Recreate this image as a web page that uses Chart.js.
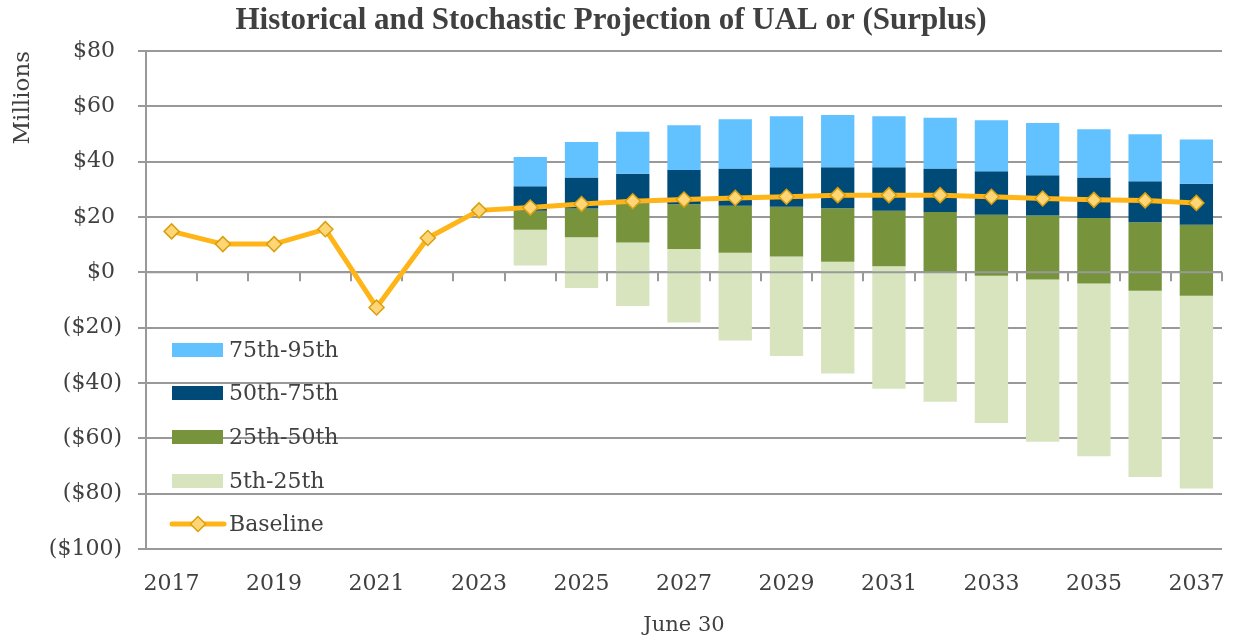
<!DOCTYPE html>
<html lang="en">
<head>
<meta charset="UTF-8">
<title>Historical and Stochastic Projection of UAL</title>
<script src="https://cdn.jsdelivr.net/npm/chart.js"></script>
<style>
  html, body { margin: 0; padding: 0; background: #fff; }
  #wrap { width: 1234px; height: 638px; }
</style>
</head>
<body>
<div id="wrap"><canvas id="ualChart"></canvas></div>
<script>
// June 30 of each year
const years = ['2017', '2018', '2019', '2020', '2021', '2022', '2023', '2024', '2025', '2026', '2027',
               '2028', '2029', '2030', '2031', '2032', '2033', '2034', '2035', '2036', '2037'];
const shownYears = ['2017', '2019', '2021', '2023', '2025', '2027', '2029', '2031', '2033', '2035', '2037'];
const yTicks = [80, 60, 40, 20, 0, -20, -40, -60, -80, -100];

// baseline UAL, $ millions
const baseline = [14.8, 10.2, 10.2, 15.6, -12.7, 12.4, 22.4, 23.4, 24.7, 25.7, 26.3,
                  26.9, 27.3, 27.9, 27.9, 27.9, 27.3, 26.7, 26.2, 26.0, 25.1];

// stochastic percentiles (null = historical years)
const p5  = [null, null, null, null, null, null, null, 2.5, -5.7, -12.2, -18.1,
             -24.6, -30.2, -36.6, -42.1, -46.8, -54.5, -61.2, -66.5, -74.0, -78.1];
const p25 = [null, null, null, null, null, null, null, 15.4, 12.7, 10.8, 8.4,
             7.1, 5.7, 3.8, 2.2, -0.2, -1.2, -2.6, -4.0, -6.7, -8.5];
const p50 = [null, null, null, null, null, null, null, 22.3, 23.1, 24.9, 24.6,
             24.1, 23.7, 23.2, 22.3, 21.8, 20.8, 20.5, 19.6, 18.1, 17.2];
const p75 = [null, null, null, null, null, null, null, 31.1, 34.3, 35.6, 37.0,
             37.5, 38.0, 38.0, 38.0, 37.5, 36.5, 35.1, 34.3, 32.9, 32.0];
const p95 = [null, null, null, null, null, null, null, 41.7, 47.1, 50.8, 53.2,
             55.3, 56.4, 56.9, 56.4, 55.9, 55.0, 54.0, 51.7, 49.9, 48.0];

const textColor = '#404040';
const gridColor = '#999999';

// floating bar pairs [low, high]
function band(lo, hi) {
    return lo.map((v, i) => v === null ? null : [v, hi[i]]);
}

// x axis line sits at $0, with category tick marks hanging below it
const zeroAxis = {
    id: 'zeroAxis',
    beforeDatasetDraw(chart, args) {
        if (args.meta.type !== 'line') return;
        const { ctx, chartArea, scales: { x, y } } = chart;
        const y0 = y.getPixelForValue(0);
        ctx.save();
        ctx.strokeStyle = gridColor;
        ctx.lineWidth = 2;
        ctx.beginPath();
        ctx.moveTo(chartArea.left, y0);
        ctx.lineTo(chartArea.right, y0);
        for (let i = 0; i <= years.length; i++) {
            const px = Math.round(x.getPixelForValue(i - 0.5));
            ctx.moveTo(px, y0);
            ctx.lineTo(px, y0 + 9);
        }
        ctx.stroke();
        ctx.restore();
    }
};

// legend drawn inside the plot, bottom left
const insideLegend = {
    id: 'insideLegend',
    afterDatasetsDraw(chart) {
        const { ctx, chartArea } = chart;
        const x0 = chartArea.left + 26;
        const rows = [-199, -156, -112, -68, -25];
        ctx.save();
        ctx.font = '22px "DejaVu Serif"';
        ctx.textBaseline = 'middle';
        chart.data.datasets.forEach((ds, i) => {
            const yy = chartArea.bottom + rows[i];
            if (ds.type === 'line') {
                ctx.strokeStyle = ds.borderColor;
                ctx.lineWidth = 5;
                ctx.lineCap = 'round';
                ctx.beginPath();
                ctx.moveTo(x0, yy);
                ctx.lineTo(x0 + 52, yy);
                ctx.stroke();
                const cx = x0 + 26, r = 7.5;
                ctx.beginPath();
                ctx.moveTo(cx, yy - r);
                ctx.lineTo(cx + r, yy);
                ctx.lineTo(cx, yy + r);
                ctx.lineTo(cx - r, yy);
                ctx.closePath();
                ctx.fillStyle = ds.pointBackgroundColor;
                ctx.fill();
                ctx.strokeStyle = ds.pointBorderColor;
                ctx.lineWidth = 1.5;
                ctx.stroke();
            } else {
                ctx.fillStyle = ds.backgroundColor;
                ctx.fillRect(x0, yy - 7, 51, 14);
            }
            ctx.fillStyle = textColor;
            ctx.fillText(ds.label, x0 + 57, yy + 1);
        });
        ctx.restore();
    }
};

const barOpts = { type: 'bar', grouped: false, barPercentage: 0.65, categoryPercentage: 1, borderWidth: 0, order: 1 };

new Chart(document.getElementById('ualChart'), {
    type: 'bar',
    data: {
        labels: years,
        datasets: [
            { ...barOpts, label: '75th-95th', data: band(p75, p95), backgroundColor: '#62C1FF' },
            { ...barOpts, label: '50th-75th', data: band(p50, p75), backgroundColor: '#004A77' },
            { ...barOpts, label: '25th-50th', data: band(p25, p50), backgroundColor: '#77933C' },
            { ...barOpts, label: '5th-25th', data: band(p5, p25), backgroundColor: '#D7E4BD' },
            {
                type: 'line',
                label: 'Baseline',
                data: baseline,
                borderColor: '#FFB418',
                borderWidth: 5,
                tension: 0,
                pointStyle: 'rectRot',
                pointRadius: 7.5,
                pointBackgroundColor: '#FFD576',
                pointBorderColor: '#D9A00E',
                pointBorderWidth: 1.5,
                order: 0
            }
        ]
    },
    options: {
        responsive: true,
        maintainAspectRatio: false,
        animation: false,
        layout: { padding: { left: 0, right: 12, top: 0, bottom: 0 } },
        font: { family: '"DejaVu Serif"' },
        plugins: {
            legend: { display: false },
            tooltip: { enabled: false },
            title: {
                display: true,
                text: 'Historical and Stochastic Projection of UAL or (Surplus)',
                color: textColor,
                font: { family: '"Liberation Serif"', size: 31, weight: 'bold', lineHeight: 1.2 },
                padding: { top: 2.4, bottom: 11.4 }
            }
        },
        scales: {
            x: {
                grid: { display: false, drawTicks: false },
                border: { display: false },
                ticks: {
                    autoSkip: false,
                    maxRotation: 0,
                    padding: 22,
                    color: textColor,
                    font: { family: '"DejaVu Serif"', size: 22, lineHeight: 1.2 },
                    callback: (v, i) => shownYears.includes(years[i]) ? years[i] : ''
                },
                title: {
                    display: true,
                    text: 'June 30',
                    color: textColor,
                    font: { family: '"DejaVu Serif"', size: 21, lineHeight: 1 },
                    padding: { top: 0, bottom: 2 }
                },
                afterFit: s => {
                    s.height = 89;
                    s.paddingLeft = 0;
                    s.paddingRight = 0;
                }
            },
            y: {
                min: -100,
                max: 80,
                afterBuildTicks: s => { s.ticks = yTicks.map(v => ({ value: v })); },
                grid: { color: gridColor, lineWidth: 2, tickLength: 8 },
                border: { display: true, color: gridColor, width: 2 },
                ticks: {
                    padding: 16,
                    color: textColor,
                    font: { family: '"DejaVu Serif"', size: 22 },
                    callback: v => v >= 0 ? '$' + v + ' ' : '($' + (-v) + ')'
                },
                title: {
                    display: true,
                    text: 'Millions',
                    align: 'end',
                    color: textColor,
                    font: { family: '"DejaVu Serif"', size: 23, lineHeight: 1.2 },
                    padding: { top: 9, bottom: 0 }
                },
                afterFit: s => { s.width = 146; }
            }
        }
    },
    plugins: [zeroAxis, insideLegend]
});
</script>
</body>
</html>
